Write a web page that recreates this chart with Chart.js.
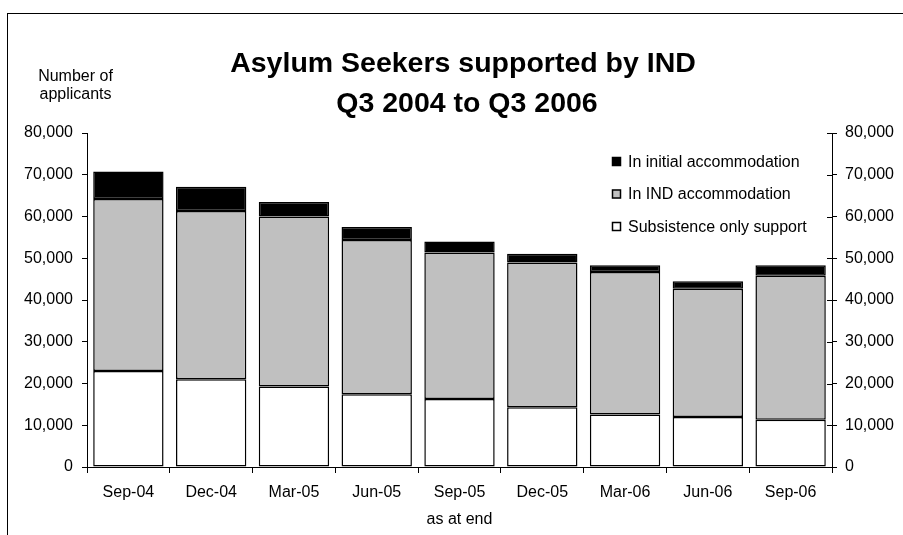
<!DOCTYPE html>
<html><head><meta charset="utf-8">
<script src="https://cdn.jsdelivr.net/npm/chart.js@4/dist/chart.umd.min.js"></script>
<style>html,body{margin:0;padding:0;background:#fff;overflow:hidden}#wrap{width:903px;height:535px;position:relative}</style>
</head><body><div id="wrap"><canvas id="c" width="903" height="535"></canvas></div>
<script>
const categories = ['Sep-04','Dec-04','Mar-05','Jun-05','Sep-05','Dec-05','Mar-06','Jun-06','Sep-06'];
const subsistenceOnly = [23000, 21000, 19300, 17400, 16300, 14300, 12600, 12000, 11300];
const indAccommodation = [41200, 40300, 40700, 37000, 35100, 34700, 34100, 30700, 34500];
const initialAccommodation = [6600, 5800, 3500, 3100, 2600, 2100, 1600, 1800, 2500];
const seriesNames = ['Subsistence only support', 'In IND accommodation', 'In initial accommodation'];
const seriesColors = ['#ffffff', '#c0c0c0', '#000000'];
const yMin = 0, yMax = 80000, yStep = 10000;
const titleLines = ['Asylum Seekers supported by IND', 'Q3 2004 to Q3 2006'];
const yAxisTitleLines = ['Number of', 'applicants'];
const xAxisTitle = 'as at end';

const FONT = "'Liberation Sans', Arial, sans-serif";
const fmt = v => v.toLocaleString('en-US');

const decorPlugin = {
  id: 'decor',
  beforeDraw(chart) {
    const ctx = chart.ctx;
    ctx.save();
    ctx.fillStyle = '#fff';
    ctx.fillRect(0, 0, chart.width, chart.height);
    ctx.strokeStyle = '#000';
    ctx.lineWidth = 1;
    ctx.strokeRect(7.5, 13.5, 1200, 1200);
    ctx.restore();
  },
  afterDraw(chart) {
    const ctx = chart.ctx;
    ctx.save();
    ctx.fillStyle = '#000';
    ctx.textBaseline = 'alphabetic';
    ctx.textAlign = 'center';
    ctx.font = 'bold 28.5px ' + FONT;
    ctx.fillText(titleLines[0], 463, 72);
    ctx.fillText(titleLines[1], 467, 112);
    ctx.font = '16px ' + FONT;
    ctx.fillText(yAxisTitleLines[0], 75.5, 81);
    ctx.fillText(yAxisTitleLines[1], 75.5, 99);
    // right-axis inner tick marks
    const y2 = chart.scales.y2;
    ctx.strokeStyle = '#000';
    ctx.lineWidth = 1;
    y2.ticks.forEach(t => {
      const py = Math.round(y2.getPixelForValue(t.value)) + 0.5;
      ctx.beginPath();
      ctx.moveTo(y2.left - 5, py);
      ctx.lineTo(y2.left, py);
      ctx.stroke();
    });
    // legend (reverse order of stacking)
    const rows = [161.5, 194, 226.5];
    ctx.font = '16px ' + FONT;
    ctx.textAlign = 'left';
    ctx.textBaseline = 'middle';
    for (let i = 0; i < 3; i++) {
      const di = 2 - i;
      const y = rows[i];
      ctx.fillStyle = seriesColors[di];
      ctx.fillRect(612, y - 4.5, 9, 9);
      ctx.strokeStyle = '#000';
      ctx.lineWidth = 1.5;
      ctx.strokeRect(612.5, y - 4, 8, 8);
      ctx.fillStyle = '#000';
      ctx.fillText(chart.data.datasets[di].label, 628, y + 1);
    }
    ctx.restore();
  }
};

const seriesData = [subsistenceOnly, indAccommodation, initialAccommodation];

new Chart(document.getElementById('c'), {
  type: 'bar',
  data: {
    labels: categories,
    datasets: seriesData.map((d, i) => ({
      label: seriesNames[i],
      data: d,
      backgroundColor: seriesColors[i],
      borderColor: '#000',
      borderWidth: 1.5,
      borderSkipped: false,
      categoryPercentage: 1,
      barPercentage: 0.85,
      yAxisID: 'y'
    }))
  },
  options: {
    responsive: false,
    devicePixelRatio: 1,
    animation: false,
    events: [],
    layout: { padding: { top: 133, left: 0, right: 0, bottom: 0 } },
    plugins: { legend: { display: false }, title: { display: false }, tooltip: { enabled: false } },
    scales: {
      x: {
        stacked: true,
        offset: true,
        afterFit: s => { s.height = 68; },
        grid: { display: true, offset: true, drawOnChartArea: false, color: '#000', tickLength: 6, lineWidth: 1 },
        border: { display: true, color: '#000', width: 1 },
        ticks: { color: '#000', font: { size: 16, family: FONT }, padding: 10, maxRotation: 0, autoSkip: false },
        title: { display: true, text: xAxisTitle, color: '#000', font: { size: 16, family: FONT }, padding: { top: 0, bottom: 6 } }
      },
      y: {
        stacked: true,
        position: 'left',
        min: yMin, max: yMax,
        afterFit: s => { s.width = 87; },
        grid: { display: true, drawOnChartArea: false, color: '#000', tickLength: 5, lineWidth: 1 },
        border: { display: true, color: '#000', width: 1 },
        ticks: { stepSize: yStep, color: '#000', font: { size: 16, family: FONT }, padding: 9, callback: v => fmt(v) }
      },
      y2: {
        position: 'right',
        display: true,
        min: yMin, max: yMax,
        afterFit: s => { s.width = 71; },
        grid: { display: true, drawOnChartArea: false, color: '#000', tickLength: 5, lineWidth: 1 },
        border: { display: true, color: '#000', width: 1 },
        ticks: { stepSize: yStep, color: '#000', font: { size: 16, family: FONT }, padding: 8, callback: v => fmt(v) }
      }
    }
  },
  plugins: [decorPlugin]
});
</script></body></html>
